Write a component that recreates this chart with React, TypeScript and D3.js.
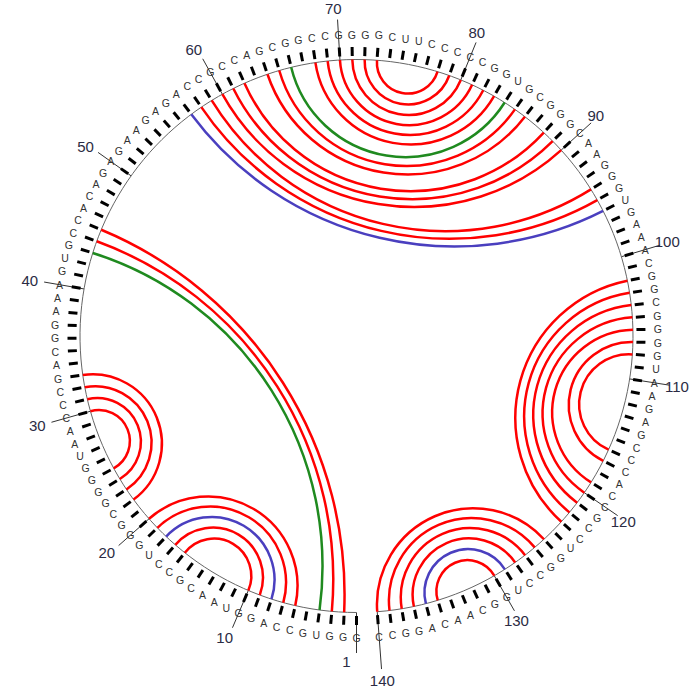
import React from "react";
import * as d3 from "d3";

// RNA sequence (positions 1..140, clockwise from the bottom)
const sequence =
  "GGGUGCCAGG" + "UAACGCCUGG" + "GCGGGGUAAC" + "CCGACGGAAA" + "GUGCCACAGA" +
  "GAAGAGACCG" + "CCAGCGGCCG" + "GGGCUUCCCC" + "CGGUGCGGGC" + "AAGGGUGAAA" +
  "CGGCGGGGUA" + "AGAGCCCACC" + "GCCUGGCCUG" + "GCAACAGGCC";

// base pairs: opening position, closing position, class
const pairOpen = [
  6, 7, 8, 9, 10,
  22, 23, 24, 25,
  2, 3, 4,
  57, 58, 59, 60, 61, 62, 64, 65, 66, 68, 69, 70, 71, 72, 73,
  102, 103, 104, 105, 106, 107, 108,
  125, 126, 127, 128, 129, 130,
];
const pairClose = [
  20, 19, 18, 17, 16,
  33, 32, 31, 30,
  45, 44, 43,
  96, 95, 94, 90, 89, 88, 86, 85, 84, 83, 82, 81, 80, 79, 78,
  123, 122, 121, 120, 119, 117, 116,
  140, 139, 138, 137, 136, 135,
];
const pairClass = [
  "a", "a", "b", "a", "a",
  "a", "a", "a", "a",
  "a", "a", "c",
  "b", "a", "a", "a", "a", "a", "a", "a", "c", "a", "a", "a", "a", "a", "a",
  "a", "a", "a", "a", "a", "a", "a",
  "a", "a", "a", "a", "b", "a",
];
const classNames = ["a", "b", "c"];
const classColors = ["#ff0000", "#4a3fbf", "#1f8a1f"];

const tickLabels = [1, 10, 20, 30, 40, 50, 60, 70, 80, 90, 100, 110, 120, 130, 140];

export default function App() {
  const W = 697;
  const H = 690;
  const cx = 356.5;
  const cy = 336;
  const R = 276.5;
  const n = sequence.length;
  const stepDeg = 2.559;

  const angle = d3
    .scaleLinear()
    .domain([1, n])
    .range([0, ((n - 1) * stepDeg * Math.PI) / 180]);
  const color = d3.scaleOrdinal<string, string>().domain(classNames).range(classColors);

  const pt = (i: number, r: number): [number, number] => {
    const a = angle(i);
    return [cx - r * Math.sin(a), cy + r * Math.cos(a)];
  };

  const p1 = pt(1, R);
  const pn = pt(n, R);
  const outline = `M${p1[0]},${p1[1]} A${R},${R} 0 1 1 ${pn[0]},${pn[1]}`;

  const arcPath = (i: number, j: number) => {
    const a = pt(i, R);
    const b = pt(j, R);
    const span = Math.abs(angle(j) - angle(i));
    const r = R * Math.tan(span / 2);
    return `M${a[0]},${a[1]} A${r},${r} 0 0 0 ${b[0]},${b[1]}`;
  };

  const letters = sequence.split("");

  return (
    <svg
      width={W}
      height={H}
      style={{ position: "absolute", left: 0, top: 0, background: "#fff" }}
      fontFamily="'Liberation Sans', Arial, sans-serif"
    >
      <rect x={0} y={0} width={W} height={H} fill="#fff" />
      {/* label lines */}
      {tickLabels.map((p) => {
        const rEnd = p === n ? 334 : 317;
        const a = pt(p, R);
        const b = pt(p, rEnd);
        return (
          <line key={"ll" + p} x1={a[0]} y1={a[1]} x2={b[0]} y2={b[1]} stroke="#333" strokeWidth={1} />
        );
      })}
      {/* ticks */}
      {letters.map((_, k) => {
        const i = k + 1;
        const a = pt(i, R + 3.5);
        const b = pt(i, R + 12.5);
        return (
          <line key={"t" + i} x1={a[0]} y1={a[1]} x2={b[0]} y2={b[1]} stroke="#000" strokeWidth={3} />
        );
      })}
      {/* sequence letters */}
      {letters.map((ch, k) => {
        const i = k + 1;
        const [x, y] = pt(i, R + 25);
        return (
          <text
            key={"s" + i}
            x={x}
            y={y}
            fontSize={10.5}
            fill="#333"
            textAnchor="middle"
            dominantBaseline="central"
          >
            {ch}
          </text>
        );
      })}
      {/* outline */}
      <path d={outline} fill="none" stroke="#666" strokeWidth={1} />
      {/* base-pair arcs */}
      {pairOpen.map((i, k) => (
        <path
          key={"bp" + k}
          d={arcPath(i, pairClose[k])}
          fill="none"
          stroke={color(pairClass[k])}
          strokeWidth={2.5}
        />
      ))}
      {/* number labels */}
      {tickLabels.map((p) => {
        let x: number, y: number;
        let anchor: "middle" | "end" = "middle";
        if (p === 1) {
          const e = pt(p, 317);
          x = e[0] - 6;
          y = e[1] + 8;
          anchor = "end";
        } else if (p === n) {
          const e = pt(p, 345);
          x = e[0];
          y = e[1];
        } else {
          const e = pt(p, 328);
          x = e[0] - 3.5;
          y = e[1];
        }
        return (
          <text
            key={"lab" + p}
            x={x}
            y={y}
            fontSize={15}
            fill="#2b2b44"
            textAnchor={anchor}
            dominantBaseline="central"
          >
            {p}
          </text>
        );
      })}
    </svg>
  );
}
